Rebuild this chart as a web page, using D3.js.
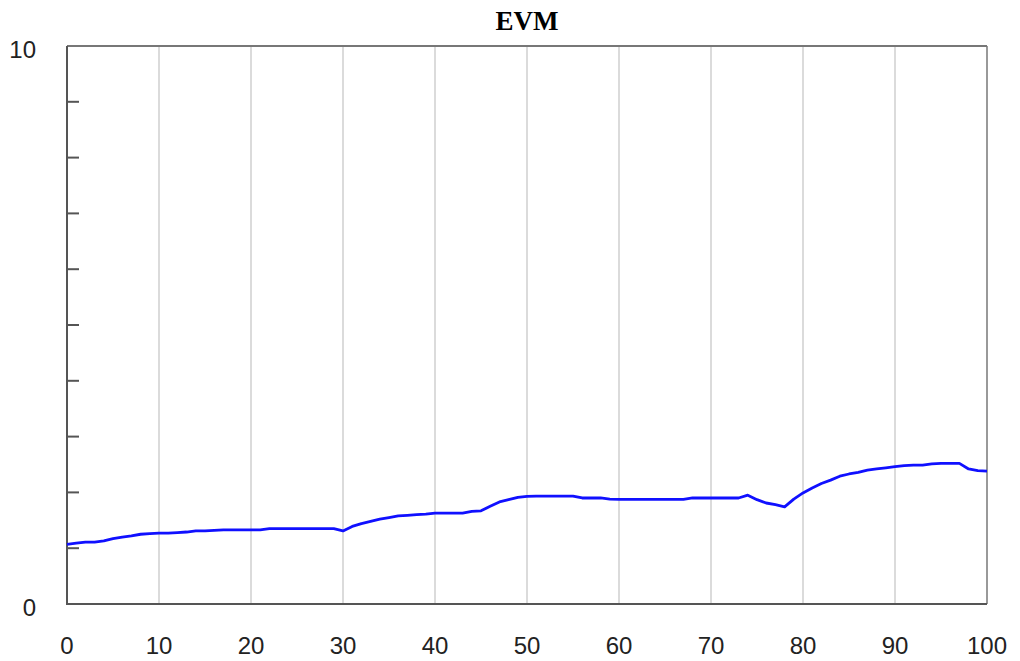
<!DOCTYPE html>
<html>
<head>
    <meta charset="utf-8">
    <title>EVM</title>
    <script src="https://d3js.org/d3.v7.min.js"></script>
    <style>
        body { margin: 0; background: #fff; }
        svg { display: block; }
        .title { font-family: "Liberation Serif", "Times New Roman", serif; font-weight: bold; font-size: 27px; }
        .lbl { font-family: "Liberation Sans", Arial, sans-serif; font-size: 24px; fill: #222; }
    </style>
</head>
<body>
<svg width="1020" height="661"></svg>
<script>
    // values
    var xValues = d3.range(0, 101);
    var evm = [
        1.07, 1.09, 1.11, 1.11, 1.13, 1.17, 1.20, 1.22, 1.25, 1.26,
        1.27, 1.27, 1.28, 1.29, 1.31, 1.31, 1.32, 1.33, 1.33, 1.33,
        1.33, 1.33, 1.35, 1.35, 1.35, 1.35, 1.35, 1.35, 1.35, 1.35,
        1.31, 1.39, 1.44, 1.48, 1.52, 1.55, 1.58, 1.59, 1.60, 1.61,
        1.63, 1.63, 1.63, 1.63, 1.66, 1.67, 1.75, 1.83, 1.87, 1.91,
        1.93, 1.935, 1.935, 1.935, 1.935, 1.935, 1.90, 1.90, 1.90, 1.88,
        1.875, 1.875, 1.875, 1.875, 1.875, 1.875, 1.875, 1.875, 1.90, 1.90,
        1.90, 1.90, 1.90, 1.90, 1.95, 1.87, 1.81, 1.78, 1.74, 1.88,
        1.99, 2.08, 2.16, 2.22, 2.29, 2.33, 2.36, 2.40, 2.42, 2.44,
        2.46, 2.48, 2.49, 2.49, 2.51, 2.52, 2.52, 2.52, 2.42, 2.39,
        2.38
    ];
    var xTicks = [0, 10, 20, 30, 40, 50, 60, 70, 80, 90, 100];
    var yLabels = [0, 10];
    var yMinor = [1, 2, 3, 4, 5, 6, 7, 8, 9];

    var svg = d3.select("svg"),
        pLeft = 67, pRight = 987, pTop = 46, pBottom = 604;

    var x = d3.scaleLinear().domain([0, 100]).range([pLeft, pRight]);
    var y = d3.scaleLinear().domain([0, 10]).range([pBottom, pTop]);

    // grid
    svg.selectAll(".grid")
        .data(xTicks.slice(1, -1))
        .enter()
        .append("line")
        .attr("x1", function(d) { return x(d); })
        .attr("x2", function(d) { return x(d); })
        .attr("y1", pTop)
        .attr("y2", pBottom)
        .attr("stroke", "#cfcfcf")
        .attr("stroke-width", 1.5);

    // frame
    svg.append("line").attr("x1", pLeft).attr("x2", pRight).attr("y1", pTop).attr("y2", pTop)
        .attr("stroke", "#777").attr("stroke-width", 2);
    svg.append("line").attr("x1", pRight).attr("x2", pRight).attr("y1", pTop).attr("y2", pBottom)
        .attr("stroke", "#777").attr("stroke-width", 1.5);
    svg.append("line").attr("x1", pLeft).attr("x2", pLeft).attr("y1", pTop).attr("y2", pBottom + 1)
        .attr("stroke", "#555").attr("stroke-width", 2);
    svg.append("line").attr("x1", pLeft).attr("x2", pRight).attr("y1", pBottom).attr("y2", pBottom)
        .attr("stroke", "#555").attr("stroke-width", 2);

    // inward y ticks
    svg.selectAll(".ytick")
        .data(yMinor)
        .enter()
        .append("line")
        .attr("x1", pLeft)
        .attr("x2", pLeft + 12)
        .attr("y1", function(d) { return y(d); })
        .attr("y2", function(d) { return y(d); })
        .attr("stroke", "#555")
        .attr("stroke-width", 2);

    // labels
    svg.selectAll(".ylbl")
        .data(yLabels)
        .enter()
        .append("text")
        .attr("class", "lbl")
        .attr("text-anchor", "end")
        .attr("x", 36)
        .attr("y", function(d) { return y(d) + 12; })
        .text(function(d) { return d; });

    svg.selectAll(".xlbl")
        .data(xTicks)
        .enter()
        .append("text")
        .attr("class", "lbl")
        .attr("text-anchor", "middle")
        .attr("x", function(d) { return x(d); })
        .attr("y", 654)
        .text(function(d) { return d; });

    svg.append("text")
        .attr("class", "title")
        .attr("text-anchor", "middle")
        .attr("x", (pLeft + pRight) / 2)
        .attr("y", 30)
        .text("EVM");

    // series
    var line = d3.line()
        .x(function(d, i) { return x(xValues[i]); })
        .y(function(d) { return y(d); });

    svg.append("path")
        .datum(evm)
        .attr("fill", "none")
        .attr("stroke", "#1010ff")
        .attr("stroke-width", 2.8)
        .attr("stroke-linejoin", "round")
        .attr("d", line);
</script>
</body>
</html>
